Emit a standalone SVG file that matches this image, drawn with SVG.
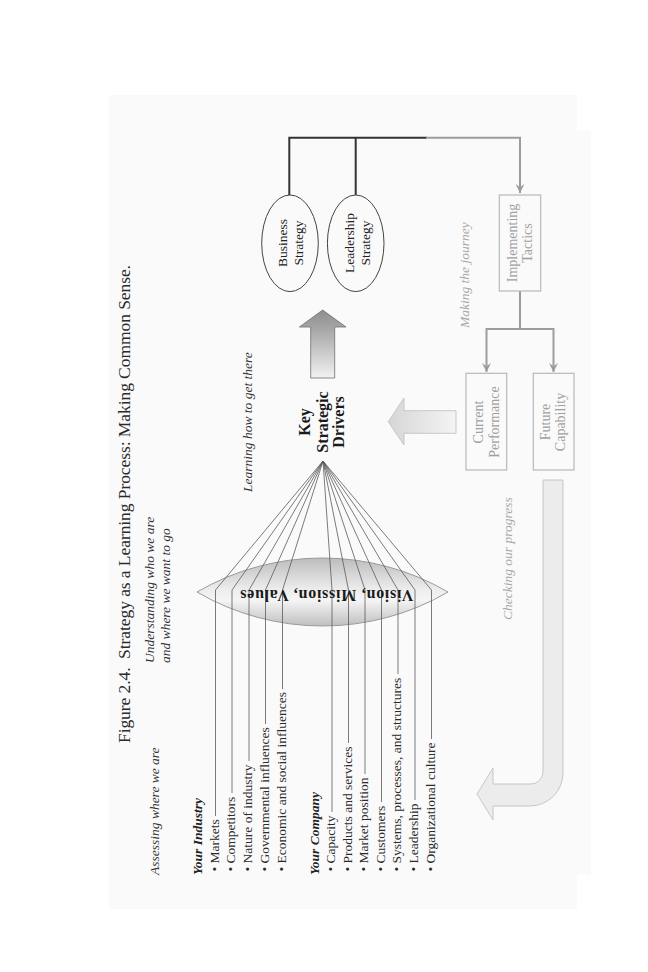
<svg xmlns="http://www.w3.org/2000/svg" width="648" height="972" viewBox="0 0 648 972">
<style>
.serif{font-family:"Liberation Serif","Times New Roman",serif;}
.title{font-family:"Liberation Serif",serif;font-size:17.5px;fill:#2a2a2a;}
.ital{font-family:"Liberation Serif",serif;font-size:13.5px;font-style:italic;fill:#333;}
.gital{font-family:"Liberation Serif",serif;font-size:13.5px;font-style:italic;fill:#a8a8a8;}
.head{font-family:"Liberation Serif",serif;font-size:13.5px;font-style:italic;font-weight:bold;fill:#222;}
.item{font-family:"Liberation Serif",serif;font-size:13.5px;fill:#2a2a2a;}
.node{font-family:"Liberation Serif",serif;font-size:13.5px;fill:#222;text-anchor:middle;}
.gnode{font-family:"Liberation Serif",serif;font-size:14px;fill:#a0a0a0;text-anchor:middle;}
.bold{font-family:"Liberation Serif",serif;font-size:16px;font-weight:bold;fill:#1a1a1a;text-anchor:middle;}
.ray{fill:none;stroke:#5a5a5a;stroke-width:0.8;}
.dark{fill:none;stroke:#333;stroke-width:2;}
.grey{fill:none;stroke:#9c9c9c;stroke-width:2;}
.gbox{fill:#fafafa;stroke:#b8b8b8;stroke-width:1.2;}
</style>
<defs>
<marker id="garrow" viewBox="0 0 10 10" refX="10" refY="5" markerUnits="userSpaceOnUse" markerWidth="9" markerHeight="11" orient="auto">
<path d="M0,0 L10,5 L0,10 L3.5,5 Z" fill="#9c9c9c"/>
</marker>
<linearGradient id="lensg" x1="0" y1="0" x2="0" y2="1">
<stop offset="0" stop-color="#bcbcbc"/>
<stop offset="0.45" stop-color="#ececec"/>
<stop offset="0.62" stop-color="#f5f5f5"/>
<stop offset="1" stop-color="#bfbfbf"/>
</linearGradient>
<linearGradient id="upg" x1="0" y1="0" x2="0" y2="1">
<stop offset="0" stop-color="#8e8e8e"/>
<stop offset="0.3" stop-color="#a8a8a8"/>
<stop offset="1" stop-color="#f2f2f2"/>
</linearGradient>
<linearGradient id="leftg" x1="0" y1="0" x2="1" y2="0">
<stop offset="0" stop-color="#d6d6d6"/>
<stop offset="1" stop-color="#f4f4f4"/>
</linearGradient>
</defs>

<path id="page" d="M109,95 H577 V131 H591 V875 H577 V909 H109 Z" fill="#fafafa"/>

<text class="title" transform="translate(130,743) rotate(-90)" textLength="478">Figure 2.4.&#160; Strategy as a Learning Process: Making Common Sense.</text>

<text class="ital" transform="translate(159,875) rotate(-90)">Assessing where we are</text>
<text class="ital" transform="translate(153.5,663) rotate(-90)">Understanding who we are</text>
<text class="ital" transform="translate(170,663) rotate(-90)">and where we want to go</text>
<text class="ital" transform="translate(252,492) rotate(-90)">Learning how to get there</text>
<text class="gital" transform="translate(469,328) rotate(-90)">Making the journey</text>
<text class="gital" transform="translate(511.5,620) rotate(-90)">Checking our progress</text>

<g id="lens">
<path d="M197,592 A248.6,248.6 0 0 1 448,592 A248.6,248.6 0 0 1 197,592 Z" fill="url(#lensg)" stroke="#9a9a9a" stroke-width="1"/>
</g>

<g id="connectors">
<polyline class="ray" points="215.5,816 215.5,590 323,461"/>
<polyline class="ray" points="232,793 232,590 323,461"/>
<polyline class="ray" points="249,761 249,590 323,461"/>
<polyline class="ray" points="265.5,724 265.5,590 323,461"/>
<polyline class="ray" points="282.5,689 282.5,590 323,461"/>
<polyline class="ray" points="332,812 332,590 323,461"/>
<polyline class="ray" points="348.5,743 348.5,590 323,461"/>
<polyline class="ray" points="365,774 365,590 323,461"/>
<polyline class="ray" points="381.5,802 381.5,590 323,461"/>
<polyline class="ray" points="398,674 398,590 323,461"/>
<polyline class="ray" points="415,800 415,590 323,461"/>
<polyline class="ray" points="431.5,739 431.5,590 323,461"/>
<path class="dark" d="M289.3,195 V137.7 H427"/>
<path class="dark" d="M355.7,137.7 V195"/>
<path class="grey" d="M426,137.7 H520 V193" marker-end="url(#garrow)"/>
<path class="grey" d="M520,291 V329"/>
<path class="grey" d="M520,329 H486.5 V372" marker-end="url(#garrow)"/>
<path class="grey" d="M520,329 H553.5 V372" marker-end="url(#garrow)"/>
<path id="up-arrow" d="M322.7,310 L346,327 L334.7,327 L334.7,378 L310.7,378 L310.7,327 L299.4,327 Z" fill="url(#upg)" stroke="#6e6e6e" stroke-width="0.8"/>
<path id="left-arrow" d="M388.3,421.7 L404,398 L404,410.7 L456,410.7 L456,433.3 L404,433.3 L404,445 Z" fill="url(#leftg)" stroke="#bdbdbd" stroke-width="0.8"/>
<path id="return-arrow" d="M543,480 H563 V773 A33,33 0 0 1 530,806 H493 V820 L477,794 L493,768 V784 H531 A12,12 0 0 0 543,772 Z" fill="#ececec" stroke="#c2c2c2" stroke-width="0.9"/>
</g>

<g id="lens-label">
<text class="bold" transform="translate(326.7,590) rotate(180)" font-size="17" textLength="173">Vision, Mission, Values</text>
</g>

<g id="industry">
<text class="head" transform="translate(202,875) rotate(-90)">Your Industry</text>
<text class="item" transform="translate(218.5,871.5) rotate(-90)">• Markets</text>
<text class="item" transform="translate(235,871.5) rotate(-90)">• Competitors</text>
<text class="item" transform="translate(252,871.5) rotate(-90)">• Nature of industry</text>
<text class="item" transform="translate(268.5,871.5) rotate(-90)">• Governmental influences</text>
<text class="item" transform="translate(285.5,871.5) rotate(-90)">• Economic and social influences</text>
</g>

<g id="company">
<text class="head" transform="translate(318.5,875) rotate(-90)">Your Company</text>
<text class="item" transform="translate(335,871.5) rotate(-90)">• Capacity</text>
<text class="item" transform="translate(351.5,871.5) rotate(-90)">• Products and services</text>
<text class="item" transform="translate(368,871.5) rotate(-90)">• Market position</text>
<text class="item" transform="translate(384.5,871.5) rotate(-90)">• Customers</text>
<text class="item" transform="translate(401,871.5) rotate(-90)">• Systems, processes, and structures</text>
<text class="item" transform="translate(418,871.5) rotate(-90)">• Leadership</text>
<text class="item" transform="translate(434.5,871.5) rotate(-90)">• Organizational culture</text>
</g>

<g id="key-drivers">
<text class="bold" transform="translate(310,422) rotate(-90)">Key</text>
<text class="bold" transform="translate(327.5,422) rotate(-90)">Strategic</text>
<text class="bold" transform="translate(344,422) rotate(-90)">Drivers</text>
</g>

<g id="business-strategy">
<ellipse cx="290" cy="243.3" rx="28.3" ry="48.3" fill="none" stroke="#444" stroke-width="1"/>
<text class="node" transform="translate(287,243) rotate(-90)">Business</text>
<text class="node" transform="translate(303,243) rotate(-90)">Strategy</text>
</g>

<g id="leadership-strategy">
<ellipse cx="355.7" cy="243.3" rx="28.3" ry="48.3" fill="none" stroke="#444" stroke-width="1"/>
<text class="node" transform="translate(354,243) rotate(-90)">Leadership</text>
<text class="node" transform="translate(370,243) rotate(-90)">Strategy</text>
</g>

<g id="implementing-tactics">
<rect class="gbox" x="499.3" y="195" width="41.4" height="96"/>
<text class="gnode" transform="translate(516.7,243) rotate(-90)">Implementing</text>
<text class="gnode" transform="translate(531.7,243) rotate(-90)">Tactics</text>
</g>

<g id="current-performance">
<rect class="gbox" x="466" y="373.3" width="40.7" height="96.7"/>
<text class="gnode" transform="translate(483.3,422) rotate(-90)">Current</text>
<text class="gnode" transform="translate(499.3,422) rotate(-90)">Performance</text>
</g>

<g id="future-capability">
<rect class="gbox" x="533.3" y="373.3" width="40.7" height="96.7"/>
<text class="gnode" transform="translate(550,422) rotate(-90)">Future</text>
<text class="gnode" transform="translate(565,422) rotate(-90)">Capability</text>
</g>
</svg>
